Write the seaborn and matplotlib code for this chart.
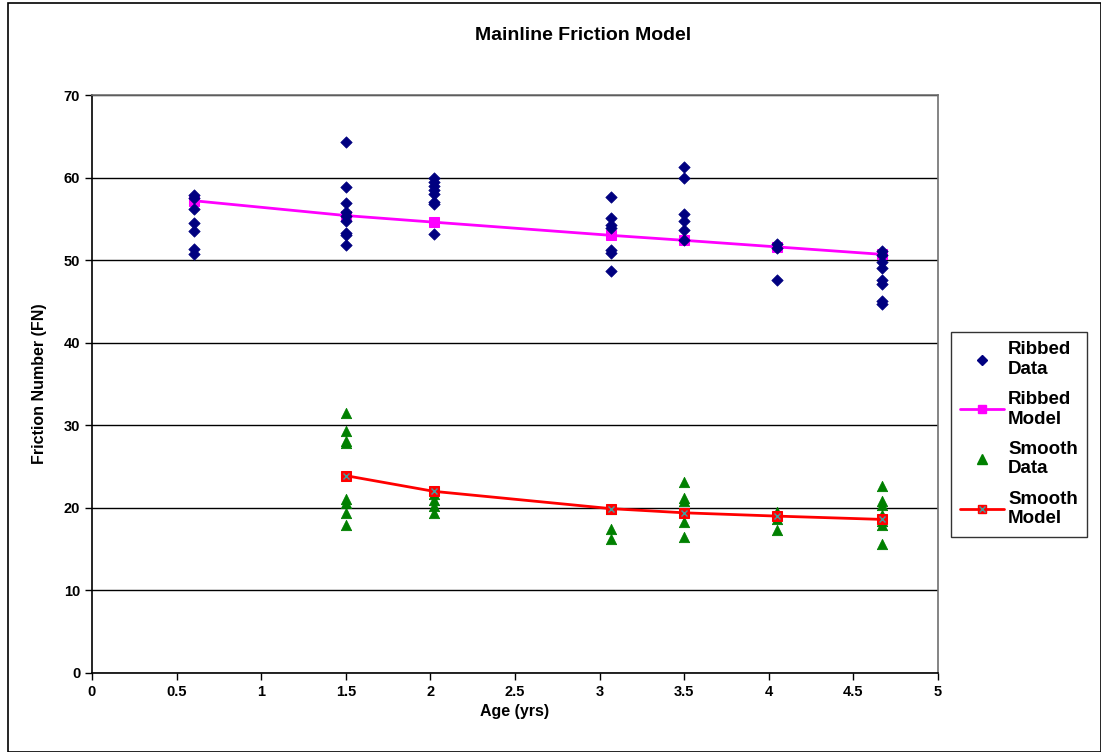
import numpy as np
import pandas as pd
import seaborn as sns
import matplotlib.pyplot as plt
from matplotlib.lines import Line2D
from matplotlib.patches import Rectangle

# Ribbed data points (age, friction number)
ribbed_x = [0.6] * 7 + [1.5] * 9 + [2.02] * 8 + [3.07] * 7 + [3.5] * 6 + [4.05] * 3 + [4.67] * 8
ribbed_y = [57.9, 57.5, 56.2, 54.5, 53.5, 51.4, 50.7,
            64.3, 58.8, 56.9, 55.8, 55.3, 54.8, 53.3, 53.0, 51.8,
            60.0, 59.5, 59.0, 58.5, 58.0, 57.1, 56.8, 53.2,
            57.6, 55.1, 54.2, 53.9, 51.2, 50.9, 48.7,
            61.3, 60.0, 55.6, 54.7, 53.6, 52.5,
            51.9, 51.5, 47.6,
            51.1, 50.6, 49.8, 49.0, 47.6, 47.1, 45.1, 44.7]

ribbed_model_x = [0.6, 1.5, 2.02, 3.07, 3.5, 4.05, 4.67]
ribbed_model_y = [57.2, 55.4, 54.6, 53.0, 52.4, 51.6, 50.7]

# Smooth data points
smooth_x = [1.5] * 8 + [2.02] * 4 + [3.07] * 3 + [3.5] * 5 + [4.05] * 4 + [4.67] * 7
smooth_y = [31.5, 29.3, 28.1, 27.8, 21.1, 20.6, 19.4, 17.9,
            21.7, 21.0, 20.2, 19.4,
            19.9, 17.5, 16.2,
            23.1, 21.2, 20.8, 18.3, 16.5,
            19.5, 19.1, 18.7, 17.3,
            22.7, 20.8, 20.3, 19.1, 18.4, 17.9, 15.6]

smooth_model_x = [1.5, 2.02, 3.07, 3.5, 4.05, 4.67]
smooth_model_y = [23.9, 22.0, 19.9, 19.4, 19.0, 18.6]

ribbed = pd.DataFrame({'Age': ribbed_x, 'FN': ribbed_y})
smooth = pd.DataFrame({'Age': smooth_x, 'FN': smooth_y})
ribbed_model = pd.DataFrame({'Age': ribbed_model_x, 'FN': ribbed_model_y})
smooth_model = pd.DataFrame({'Age': smooth_model_x, 'FN': smooth_model_y})

sns.set_style('white')
plt.rcParams['font.family'] = ['Liberation Sans', 'DejaVu Sans']
plt.rcParams['font.weight'] = 'bold'
plt.rcParams['text.color'] = 'black'
plt.rcParams['axes.labelcolor'] = 'black'
plt.rcParams['xtick.color'] = 'black'
plt.rcParams['ytick.color'] = 'black'

fig = plt.figure(figsize=(11.01, 7.52), dpi=100)
ax = fig.add_axes([92 / 1101, 1 - 673 / 752, (938 - 92) / 1101, (673 - 95) / 752])

navy = '#000080'
green = '#008000'
magenta = '#FF00FF'
red = '#FF0000'

sns.lineplot(data=ribbed_model, x='Age', y='FN', ax=ax, color=magenta, lw=2,
             marker='s', markersize=7, markeredgecolor=magenta, zorder=3)
sns.scatterplot(data=ribbed, x='Age', y='FN', ax=ax, color=navy, marker='D',
                s=34, edgecolor=navy, zorder=4)
sns.scatterplot(data=smooth, x='Age', y='FN', ax=ax, color=green, marker='^',
                s=55, edgecolor=green, zorder=4)
sns.lineplot(data=smooth_model, x='Age', y='FN', ax=ax, color=red, lw=2,
             marker='s', markersize=7, markeredgecolor=red, zorder=5)
ax.plot(smooth_model['Age'], smooth_model['FN'], ls='none', marker='x',
        markersize=5, color='#40A0A0', mew=1, zorder=6)

ax.set_xlim(0, 5)
ax.set_ylim(0, 70)
ax.set_xticks(np.arange(0, 5.01, 0.5))
ax.set_xticklabels(['0', '0.5', '1', '1.5', '2', '2.5', '3', '3.5', '4', '4.5', '5'])
ax.set_yticks(range(0, 71, 10))
ax.yaxis.grid(True, color='black', lw=1)
ax.tick_params(direction='out', length=5, width=1, colors='black',
               labelsize=10.5, bottom=True, left=True)
for lab in ax.get_xticklabels() + ax.get_yticklabels():
    lab.set_fontweight('bold')
for s in ['left', 'bottom']:
    ax.spines[s].set_color('black')
    ax.spines[s].set_linewidth(1.2)
for s in ['top', 'right']:
    ax.spines[s].set_color('#707070')
    ax.spines[s].set_linewidth(1.2)

ax.set_xlabel('Age (yrs)', fontsize=11.5, fontweight='bold', labelpad=4)
ax.set_ylabel('Friction Number (FN)', fontsize=11.5, fontweight='bold', labelpad=12)
fig.text(583 / 1101, 1 - 36 / 752, 'Mainline Friction Model', ha='center', va='center',
         fontsize=14, fontweight='bold')

handles = [
    Line2D([], [], ls='none', marker='D', color=navy, markersize=5),
    Line2D([], [], color=magenta, lw=2, marker='s', markersize=6),
    Line2D([], [], ls='none', marker='^', color=green, markersize=7),
    (Line2D([], [], color=red, lw=2, marker='s', markersize=6),
     Line2D([], [], ls='none', marker='x', color='#40A0A0', markersize=4)),
]
labels = ['Ribbed\nData', 'Ribbed\nModel', 'Smooth\nData', 'Smooth\nModel']
leg = fig.legend(handles, labels, loc='upper left', bbox_to_anchor=(951 / 1101, 1 - 332 / 752),
                 frameon=True, fancybox=False, edgecolor='black',
                 handlelength=2.3, handletextpad=0.25, labelspacing=0.7, borderpad=0.5,
                 borderaxespad=0, prop={'weight': 'bold', 'size': 13.5})
leg.get_frame().set_linewidth(1)

# outer chart border
fig.patches.append(Rectangle((8 / 1101, 0), 1 - 8 / 1101, 1 - 3 / 752, transform=fig.transFigure,
                             fill=False, edgecolor='black', lw=1.2))

fig.savefig('out.png', dpi=100)
